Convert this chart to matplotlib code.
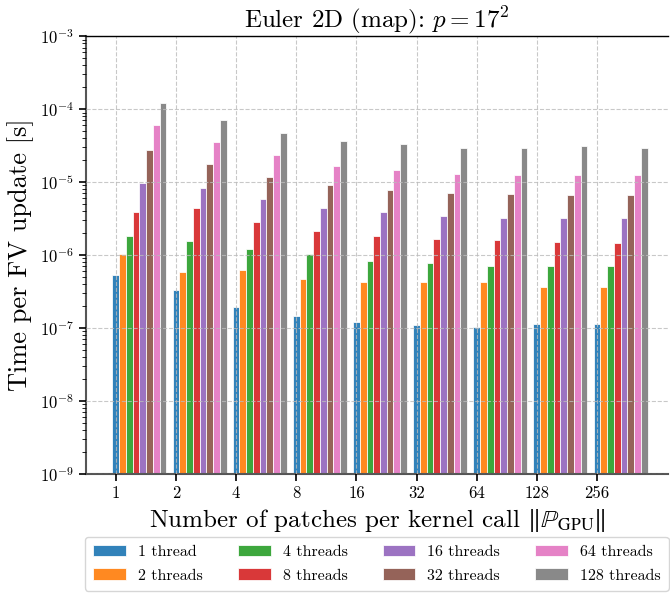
import matplotlib
matplotlib.use("Agg")
import matplotlib.pyplot as plt
import numpy as np

plt.rcParams['font.family'] = 'serif'
plt.rcParams['font.serif'] = ['cmr10']
plt.rcParams['mathtext.fontset'] = 'cm'
plt.rcParams['axes.formatter.use_mathtext'] = True

# patches per kernel call
patches = ['1', '2', '4', '8', '16', '32', '64', '128', '256']
threads = ['1 thread', '2 threads', '4 threads', '8 threads',
           '16 threads', '32 threads', '64 threads', '128 threads']

# time per FV update [s], one list per thread count
t1 = [5.4e-7, 3.3e-7, 1.92e-7, 1.46e-7, 1.22e-7, 1.10e-7, 1.05e-7, 1.12e-7, 1.12e-7]
t2 = [1.05e-6, 5.85e-7, 6.2e-7, 4.7e-7, 4.27e-7, 4.27e-7, 4.27e-7, 3.65e-7, 3.65e-7]
t4 = [1.82e-6, 1.54e-6, 1.21e-6, 1.02e-6, 8.3e-7, 7.8e-7, 7.2e-7, 7.07e-7, 7.0e-7]
t8 = [3.9e-6, 4.4e-6, 2.81e-6, 2.13e-6, 1.80e-6, 1.66e-6, 1.59e-6, 1.51e-6, 1.46e-6]
t16 = [9.6e-6, 8.3e-6, 5.8e-6, 4.45e-6, 3.85e-6, 3.46e-6, 3.25e-6, 3.18e-6, 3.18e-6]
t32 = [2.77e-5, 1.80e-5, 1.16e-5, 9.1e-6, 7.85e-6, 7.14e-6, 6.78e-6, 6.64e-6, 6.64e-6]
t64 = [6.0e-5, 3.53e-5, 2.32e-5, 1.69e-5, 1.45e-5, 1.30e-5, 1.25e-5, 1.25e-5, 1.25e-5]
t128 = [1.21e-4, 7.0e-5, 4.7e-5, 3.72e-5, 3.32e-5, 2.98e-5, 2.95e-5, 3.11e-5, 2.98e-5]
times = [t1, t2, t4, t8, t16, t32, t64, t128]

colors = ['#1f77b4', '#ff7f0e', '#2ca02c', '#d62728',
          '#9467bd', '#8c564b', '#e377c2', '#7f7f7f']

fig = plt.figure(figsize=(6.7, 5.94), dpi=100)
ax = fig.add_axes([0.128, 0.202, 0.869, 0.737])

index = np.arange(len(patches))
bar_width = 0.112

for i in range(len(threads)):
    ax.bar(index + i * bar_width, times[i], bar_width, color=colors[i],
           alpha=0.92, edgecolor='white', linewidth=0.6, label=threads[i],
           zorder=2)

ax.set_yscale('log')
ax.set_ylim(1e-9, 1e-3)
ax.set_xlim(-0.5, 9.18)
ax.set_xticks(index)
ax.set_xticklabels(patches)
ax.tick_params(axis='both', labelsize=12)
ax.tick_params(axis='y', which='minor', length=3)
ax.tick_params(axis='both', which='major', length=5, width=1.2)

ax.grid(True, which='major', linestyle='--', color='#bbbbbb', alpha=0.8,
        linewidth=0.8, zorder=3)
ax.set_axisbelow(False)

for side in ['left', 'bottom']:
    ax.spines[side].set_color('#555555')
    ax.spines[side].set_linewidth(1.5)
ax.spines['top'].set_linewidth(1.0)
ax.spines['top'].set_zorder(5)
ax.spines['right'].set_visible(False)

ax.set_title(r'Euler 2D (map): $p=17^2$', fontsize=18)
ax.set_ylabel('Time per FV update [s]', fontsize=19)
ax.set_xlabel(r'Number of patches per kernel call $\Vert\mathbb{P}_{\mathrm{GPU}}\Vert$',
              fontsize=18, math_fontfamily='stix')

ax.legend(loc='upper center', bbox_to_anchor=(0.5, -0.143), ncol=4,
          fontsize=11.5, frameon=True, handlelength=2.05, handletextpad=0.75,
          columnspacing=2.2, borderaxespad=0.0, labelspacing=0.6,
          borderpad=0.5)

fig.savefig('out.png', dpi=100)
